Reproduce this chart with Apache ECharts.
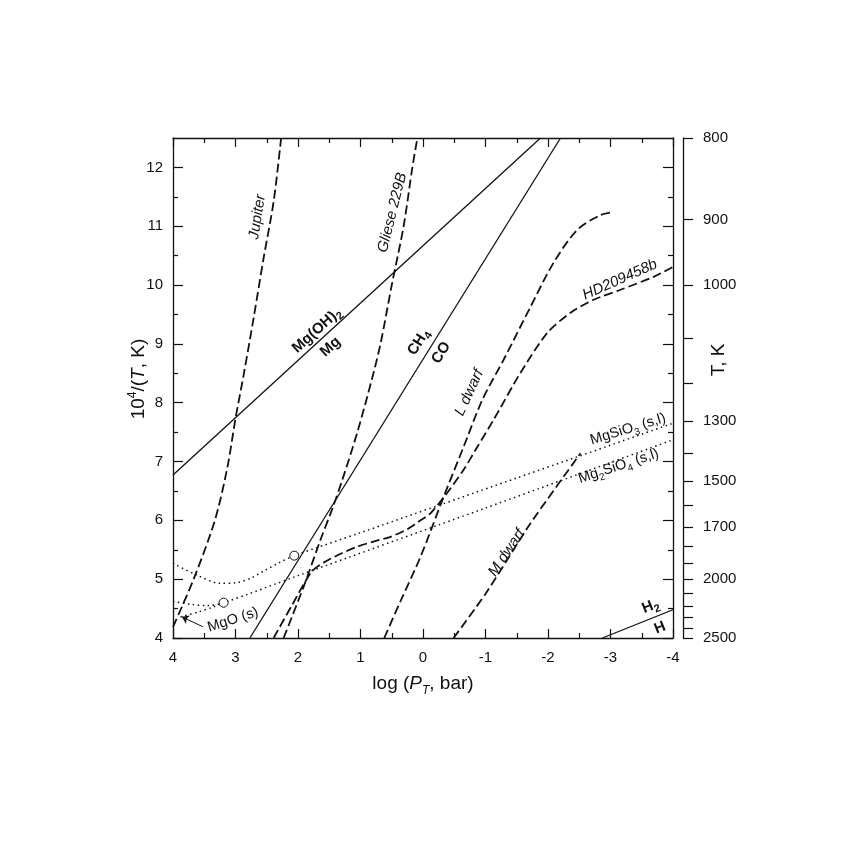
<!DOCTYPE html>
<html>
<head>
<meta charset="utf-8">
<script src="https://cdn.jsdelivr.net/npm/echarts@6/dist/echarts.min.js"></script>
<style>
html, body { margin: 0; padding: 0; background: #fff; }
#chart { width: 852px; height: 852px; }
</style>
</head>
<body>
<div id="chart"></div>
<script>
// [log P, 1e4/T]
var jupiter = [[4.0, 4.19], [3.67, 5.0], [3.33, 6.0], [3.13, 6.9], [3.0, 7.73], [2.87, 8.47], [2.71, 9.44], [2.55, 10.46], [2.39, 11.42], [2.27, 12.5]];
var gliese = [[2.23, 4.0], [1.9, 4.9], [1.64, 5.67], [1.45, 6.2], [1.29, 6.69], [1.05, 7.5], [0.82, 8.39], [0.68, 9.0], [0.5, 10.0], [0.31, 11.0], [0.17, 12.0], [0.09, 12.5]];
var lDwarf = [[0.62, 4.0], [0.35, 4.65], [0.04, 5.38], [-0.33, 6.4], [-0.65, 7.25], [-0.95, 8.05], [-1.29, 8.73], [-1.72, 9.63], [-2.09, 10.38], [-2.47, 10.94], [-2.84, 11.19], [-3.04, 11.24]];
var hd209458b = [[2.39, 4.0], [2.1, 4.55], [1.78, 5.13], [1.56, 5.3], [1.3, 5.44], [1.06, 5.55], [0.79, 5.64], [0.52, 5.72], [0.25, 5.85], [0.04, 6.0], [-0.12, 6.12], [-0.36, 6.43], [-0.65, 6.86], [-0.87, 7.25], [-1.13, 7.71], [-1.56, 8.51], [-1.99, 9.19], [-2.36, 9.53], [-2.73, 9.75], [-3.16, 9.92], [-3.69, 10.14], [-4.0, 10.31]];
var mDwarf = [[-0.49, 4.0], [-1.0, 4.75], [-1.72, 5.95], [-2.52, 7.14]];
var mgOH2 = [[4.0, 6.77], [-1.88, 12.5]];
var ch4co = [[2.77, 4.0], [-2.2, 12.5]];
var h2h = [[-2.87, 4.0], [-4.0, 4.48]];
var mgsio3 = [[4.0, 5.27], [3.62, 5.07], [3.25, 4.93], [2.98, 4.94], [2.75, 5.02], [2.53, 5.15], [2.3, 5.28], [2.06, 5.40], [1.0, 5.79], [-1.5, 6.72], [-4.0, 7.65]];
var mg2sio4 = [[4.0, 4.62], [3.7, 4.57], [3.45, 4.55], [3.19, 4.60], [2.0, 5.06], [-1.0, 6.21], [-4.0, 7.37]];
var mgo = [[3.88, 4.36], [3.6, 4.44], [3.35, 4.53], [3.19, 4.60]];
var circles = [[3.19, 4.60], [2.06, 5.40]];
var mgoArrow = [[3.52, 4.19], [3.86, 4.36]];

var xTicks = [4, 3, 2, 1, 0, -1, -2, -3, -4];
var yTicks = [4, 5, 6, 7, 8, 9, 10, 11, 12];
var yMinor = [4.5, 5.5, 6.5, 7.5, 8.5, 9.5, 10.5, 11.5];
var tempTicks = [800, 900, 1000, 1100, 1200, 1300, 1400, 1500, 1600, 1700, 1800, 1900, 2000, 2100, 2200, 2300, 2400, 2500];
var tempLabels = [800, 900, 1000, 1300, 1500, 1700, 2000, 2500];

var annotations = [
  {text: 'Jupiter', at: [2.65, 11.16], rotate: 81, kind: 'it'},
  {text: 'Gliese 229B', at: [0.49, 11.23], rotate: 76, kind: 'it'},
  {text: 'Mg(OH){bsub|2}', at: [1.70, 9.23], rotate: 42, kind: 'bold'},
  {text: 'Mg', at: [1.48, 8.95], rotate: 42, kind: 'bold'},
  {text: 'CH{bsub|4}', at: [0.07, 9.03], rotate: 58, kind: 'bold'},
  {text: 'CO', at: [-0.29, 8.85], rotate: 58, kind: 'bold'},
  {text: 'L dwarf', at: [-0.74, 8.17], rotate: 65, kind: 'it'},
  {text: 'HD209458b', at: [-3.15, 10.09], rotate: 24, kind: 'it'},
  {text: 'MgSiO{sub|3} (s,l)', at: [-3.28, 7.55], rotate: 17, kind: 'norm'},
  {text: 'Mg{sub|2}SiO{sub|4} (s,l)', at: [-3.13, 6.92], rotate: 18, kind: 'norm'},
  {text: 'M dwarf', at: [-1.34, 5.45], rotate: 56, kind: 'it'},
  {text: 'MgO (s)', at: [3.04, 4.31], rotate: 18, kind: 'norm'},
  {text: 'H{bsub|2}', at: [-3.64, 4.54], rotate: 22, kind: 'bold'},
  {text: 'H', at: [-3.79, 4.17], rotate: 22, kind: 'bold'}
];

var FONT = 'Liberation Sans';
var INK = '#111';

var dom = document.getElementById('chart');
var myChart = echarts.init(dom);

function curve(name, data, kind, smooth) {
  var style = {color: INK, width: 1.3, type: 'solid', opacity: 1};
  if (kind === 'dash') style = {color: INK, width: 1.8, type: [9, 4], opacity: 1};
  if (kind === 'dot') style = {color: '#111', width: 1.5, type: [1.5, 3.5], opacity: 1};
  return {
    name: name, type: 'line', data: data, showSymbol: false, symbol: 'none',
    smooth: smooth || false, lineStyle: style, silent: true, z: 3
  };
}

var richStyles = {
  sub: {fontFamily: FONT, fontSize: 10, verticalAlign: 'bottom', color: INK, padding: [0, 0, -3, 0]},
  bsub: {fontFamily: FONT, fontSize: 11, fontWeight: 'bold', verticalAlign: 'bottom', color: INK, padding: [0, 0, -3, 0]}
};

var labelData = annotations.map(function (a) {
  return {
    value: a.at,
    label: {
      show: true,
      formatter: a.text,
      rotate: a.rotate,
      position: 'inside',
      align: 'center',
      verticalAlign: 'middle',
      fontFamily: FONT,
      fontSize: a.kind === 'norm' ? 14.5 : 15,
      fontStyle: a.kind === 'it' ? 'italic' : 'normal',
      fontWeight: a.kind === 'bold' ? 'bold' : 'normal',
      color: INK,
      opacity: 1,
      rich: richStyles
    }
  };
});

function frameX(pos, showLabel) {
  return {
    type: 'value', position: pos, min: -4, max: 4, interval: 1, inverse: true,
    axisLine: {show: true, onZero: false, lineStyle: {color: INK, width: 1.3}},
    axisTick: {show: true, inside: true, length: 9, lineStyle: {color: INK, width: 1.2}},
    minorTick: {show: true, splitNumber: 2, length: 5, lineStyle: {color: INK, width: 1.2}},
    axisLabel: {show: showLabel, fontFamily: FONT, fontSize: 15, color: INK, margin: 12},
    splitLine: {show: false}
  };
}

function frameY(pos, ticks, len, showLine, showLabel) {
  return {
    type: 'value', position: pos, min: 4, max: 12.5, offset: 0,
    axisLine: {show: showLine, onZero: false, lineStyle: {color: INK, width: 1.3}},
    axisTick: {show: true, inside: true, length: len, customValues: ticks, lineStyle: {color: INK, width: 1.2}},
    axisLabel: {show: showLabel, customValues: yTicks, fontFamily: FONT, fontSize: 15, color: INK, margin: 10},
    splitLine: {show: false}
  };
}

var yLeft = frameY('left', yTicks, 10, true, true);
yLeft.name = '10{sup|4}/({it|T}, K)';
yLeft.nameLocation = 'middle';
yLeft.nameGap = 25;
yLeft.nameRotate = 90;
yLeft.nameMoveOverlap = false;
yLeft.nameTextStyle = {
  fontFamily: FONT, fontSize: 19, color: INK, padding: [0, 0, 0, 18],
  rich: {
    sup: {fontFamily: FONT, fontSize: 12, verticalAlign: 'top', color: INK, padding: [-2, 0, 0, 0]},
    it: {fontFamily: FONT, fontSize: 19, fontStyle: 'italic', color: INK}
  }
};

var xBottom = frameX('bottom', true);
xBottom.name = 'log ({it|P}{itsub|T}, bar)';
xBottom.nameLocation = 'middle';
xBottom.nameGap = 36;
xBottom.nameMoveOverlap = false;
xBottom.nameTextStyle = {
  fontFamily: FONT, fontSize: 19, color: INK,
  rich: {
    it: {fontFamily: FONT, fontSize: 19, fontStyle: 'italic', color: INK},
    itsub: {fontFamily: FONT, fontSize: 12, fontStyle: 'italic', verticalAlign: 'bottom', color: INK, padding: [0, 0, -4, 0]}
  }
};

var tAxis = {
  type: 'value', position: 'right', min: 4, max: 12.5, offset: 10,
  axisLine: {show: true, onZero: false, lineStyle: {color: INK, width: 1.3}},
  axisTick: {show: true, inside: false, length: 10,
    customValues: tempTicks.map(function (t) { return 1e4 / t; }),
    lineStyle: {color: INK, width: 1.2}},
  axisLabel: {show: true, margin: 20, fontFamily: FONT, fontSize: 15, color: INK,
    customValues: tempLabels.map(function (t) { return 1e4 / t; }),
    formatter: function (v) { return String(Math.round(1e4 / v / 10) * 10); }},
  splitLine: {show: false},
  name: 'T, K',
  nameLocation: 'middle',
  nameGap: 26,
  nameRotate: 90,
  nameMoveOverlap: false,
  nameTextStyle: {fontFamily: FONT, fontSize: 19, color: INK, padding: [0, 0, 0, 56]}
};

var option = {
  backgroundColor: '#fff',
  animation: false,
  grid: {left: 173, right: 179, top: 138, bottom: 214, containLabel: false},
  xAxis: [xBottom, frameX('top', false)],
  yAxis: [
    yLeft,
    frameY('left', yMinor, 5, false, false),
    frameY('right', yTicks, 10, true, false),
    frameY('right', yMinor, 5, false, false),
    tAxis
  ],
  series: [
    curve('Mg(OH)2 / Mg', mgOH2, 'solid'),
    curve('CH4 / CO', ch4co, 'solid'),
    curve('H2 / H', h2h, 'solid'),
    curve('Jupiter', jupiter, 'dash', 0.3),
    curve('Gliese 229B', gliese, 'dash', 0.3),
    curve('L dwarf', lDwarf, 'dash', 0.3),
    curve('HD209458b', hd209458b, 'dash', 0.25),
    curve('M dwarf', mDwarf, 'dash', 0.2),
    curve('MgSiO3', mgsio3, 'dot', 0.3),
    curve('Mg2SiO4', mg2sio4, 'dot', 0.3),
    curve('MgO', mgo, 'dot', 0.3),
    {
      name: 'points', type: 'scatter', data: circles, symbol: 'circle', symbolSize: 9,
      itemStyle: {color: '#fff', borderColor: INK, borderWidth: 1, opacity: 1}, silent: true, z: 4
    },
    {
      name: 'arrow', type: 'lines', coordinateSystem: 'cartesian2d',
      data: [{coords: mgoArrow}], symbol: ['none', 'arrow'], symbolSize: 7,
      lineStyle: {color: INK, width: 1, curveness: 0, opacity: 1}, silent: true, z: 4
    },
    {
      name: 'labels', type: 'scatter', data: labelData, symbolSize: 0,
      itemStyle: {opacity: 1}, silent: true, z: 5
    }
  ]
};

if (option && typeof option === 'object') {
  myChart.setOption(option, true);
}
</script>
</body>
</html>
